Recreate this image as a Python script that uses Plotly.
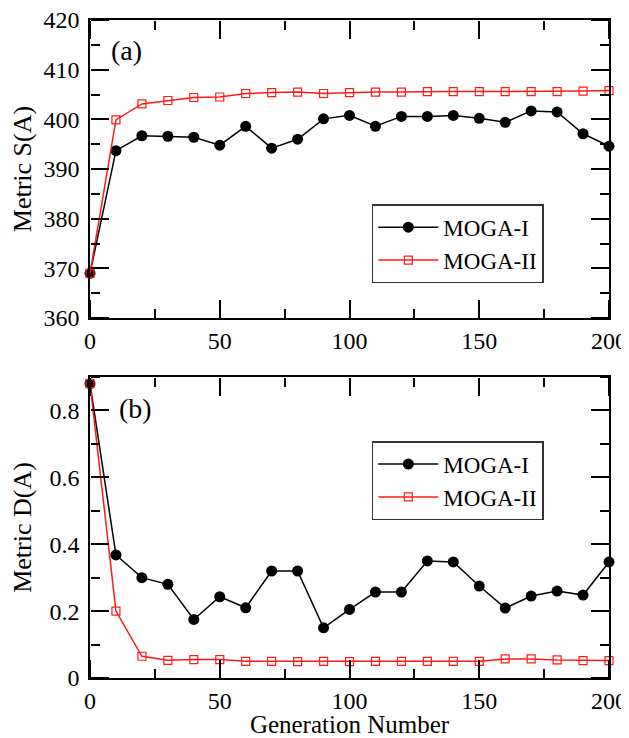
import plotly.graph_objects as go

generations = [0, 10, 20, 30, 40, 50, 60, 70, 80, 90, 100, 110, 120, 130, 140, 150, 160, 170, 180, 190, 200]

s_moga1 = [369.0, 393.7, 396.7, 396.6, 396.4, 394.8, 398.6, 394.2, 396.0, 400.1, 400.8,
           398.6, 400.6, 400.6, 400.8, 400.2, 399.4, 401.7, 401.5, 397.1, 394.6]
s_moga2 = [369.0, 399.9, 403.1, 403.8, 404.4, 404.5, 405.2, 405.4, 405.5, 405.2, 405.4,
           405.5, 405.5, 405.6, 405.6, 405.6, 405.6, 405.6, 405.6, 405.7, 405.8]

d_moga1 = [0.88, 0.368, 0.30, 0.28, 0.175, 0.243, 0.21, 0.32, 0.32, 0.15, 0.205,
           0.257, 0.257, 0.35, 0.347, 0.275, 0.209, 0.245, 0.26, 0.248, 0.347]
d_moga2 = [0.88, 0.20, 0.065, 0.053, 0.055, 0.055, 0.05, 0.05, 0.049, 0.05, 0.049,
           0.05, 0.05, 0.05, 0.05, 0.05, 0.057, 0.057, 0.054, 0.052, 0.052]

x_range = [0, 200]
s_range = [360, 420]
d_range = [0, 0.9]

FONT = "Liberation Serif"
BLACK = "#000000"
RED = "#ff1a1a"

top_dom = [0.547, 1.0]
bot_dom = [0.0, 0.4574]

fig = go.Figure()

def add_pair(xa, ya, y1, y2, legend):
    fig.add_trace(go.Scatter(
        x=generations, y=y1, mode="lines+markers", name="MOGA-I",
        xaxis=xa, yaxis=ya,
        line=dict(color=BLACK, width=1.5),
        marker=dict(symbol="circle", size=11, color=BLACK),
        cliponaxis=False, legend=legend))
    fig.add_trace(go.Scatter(
        x=generations, y=y2, mode="lines+markers", name="MOGA-II",
        xaxis=xa, yaxis=ya,
        line=dict(color=RED, width=1.5),
        marker=dict(symbol="square-open", size=8, color=RED, line=dict(width=1.2, color=RED)),
        cliponaxis=False, legend=legend))

add_pair("x", "y", s_moga1, s_moga2, "legend")
add_pair("x2", "y2", d_moga1, d_moga2, "legend2")

# empty helper traces so the tick-only overlay axes are drawn
for xa, ya in [("x3", "y"), ("x4", "y"), ("x", "y3"), ("x", "y4"),
               ("x5", "y2"), ("x6", "y2"), ("x2", "y5"), ("x2", "y6")]:
    fig.add_trace(go.Scatter(x=[], y=[], xaxis=xa, yaxis=ya, mode="markers",
                             showlegend=False, hoverinfo="skip"))

tick_font = dict(family=FONT, size=24, color=BLACK)
title_font = dict(family=FONT, size=26, color=BLACK)

def main_ax(**kw):
    d = dict(
        showline=True, linecolor=BLACK, linewidth=1.5, mirror=True,
        ticks="", showgrid=False, zeroline=False, showticklabels=True,
        automargin=False, tickfont=tick_font, ticklabeloverflow="allow",
    )
    d.update(kw)
    return d

def tick_ax(rng, dt, mdt, **kw):
    d = dict(
        range=rng, dtick=dt, tick0=rng[0], anchor="free",
        showline=False, showgrid=False, zeroline=False, showticklabels=False,
        ticks="outside", ticklen=18, tickwidth=1.5, tickcolor=BLACK,
        minor=dict(ticks="outside", ticklen=9, dtick=mdt, tickwidth=1.5, tickcolor=BLACK, showgrid=False),
        automargin=False,
    )
    d.update(kw)
    return d

legend_style = dict(
    font=dict(family=FONT, size=23, color=BLACK),
    bgcolor="white", bordercolor="#333333", borderwidth=1.5,
    xanchor="left", yanchor="top", itemwidth=60, tracegroupgap=0,
)

fig.update_layout(
    template="none",
    width=621, height=730,
    margin=dict(l=82, r=20, t=12, b=60),
    paper_bgcolor="white", plot_bgcolor="white",
    showlegend=True,
    xaxis=main_ax(domain=[0, 1], anchor="y", range=x_range, dtick=50, tick0=0, ticklabelstandoff=0),
    yaxis=main_ax(domain=top_dom, anchor="x", range=s_range, dtick=10, tick0=360, ticklabelstandoff=4,
                  title=dict(text="Metric S(A)", font=title_font, standoff=14)),
    xaxis2=main_ax(domain=[0, 1], anchor="y2", range=x_range, dtick=50, tick0=0, ticklabelstandoff=0,
                   title=dict(text="Generation Number", font=dict(family=FONT, size=25, color=BLACK),
                              standoff=14)),
    yaxis2=main_ax(domain=bot_dom, anchor="x2", range=d_range, dtick=0.2, tick0=0, ticklabelstandoff=4,
                   title=dict(text="Metric D(A)", font=title_font, standoff=14)),
    # inward-pointing ticks on all four edges of both panels
    xaxis3=tick_ax(x_range, 50, 25, overlaying="x", position=top_dom[0], side="top"),
    xaxis4=tick_ax(x_range, 50, 25, overlaying="x", position=top_dom[1], side="bottom"),
    yaxis3=tick_ax(s_range, 10, 5, overlaying="y", position=0, side="right"),
    yaxis4=tick_ax(s_range, 10, 5, overlaying="y", position=1, side="left"),
    xaxis5=tick_ax(x_range, 50, 25, overlaying="x2", position=bot_dom[0], side="top"),
    xaxis6=tick_ax(x_range, 50, 25, overlaying="x2", position=bot_dom[1], side="bottom"),
    yaxis5=tick_ax(d_range, 0.2, 0.1, overlaying="y2", position=0, side="right"),
    yaxis6=tick_ax(d_range, 0.2, 0.1, overlaying="y2", position=1, side="left"),
    legend=dict(x=0.543, y=0.720, xref="paper", yref="paper", **legend_style),
    legend2=dict(x=0.543, y=0.360, xref="paper", yref="paper", **legend_style),
    annotations=[
        dict(text="(a)", x=0.036, y=0.953, xref="paper", yref="paper", xanchor="left", yanchor="middle",
             showarrow=False, font=dict(family=FONT, size=28, color=BLACK)),
        dict(text="(b)", x=0.052, y=0.41, xref="paper", yref="paper", xanchor="left", yanchor="middle",
             showarrow=False, font=dict(family=FONT, size=28, color=BLACK)),
    ],
)

fig.write_html("out.html")
